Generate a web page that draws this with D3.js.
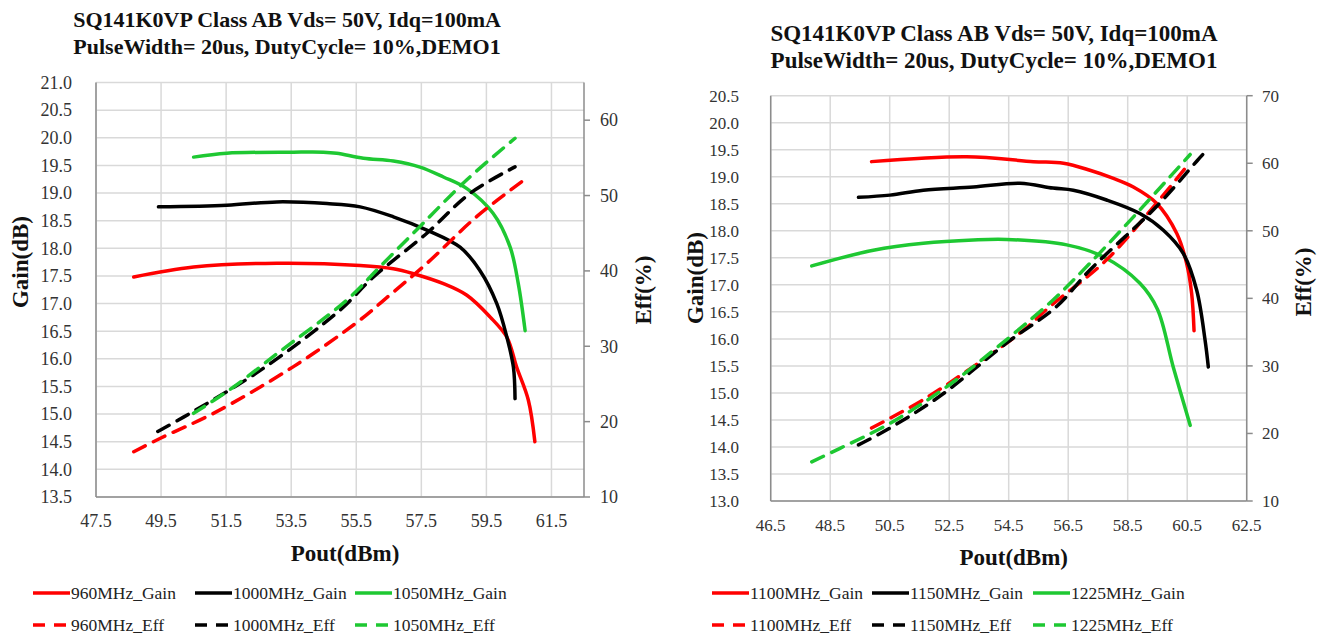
<!DOCTYPE html>
<html>
<head>
<meta charset="utf-8">
<script src="https://cdn.jsdelivr.net/npm/d3@7"></script>
<style>
  body { margin: 0; background: #fff; }
  svg text { font-family: "Liberation Serif", "DejaVu Serif", "Times New Roman", Times, serif; fill: #222; }
  .title { font-weight: bold; fill: #111; }
  .axis-title { font-weight: bold; font-size: 23px; fill: #111; }
  .tick-label { fill: #333; }
  .legend-label { font-size: 17.5px; fill: #222; }
</style>
</head>
<body>
<svg id="chart" width="1324" height="637"></svg>
<script>
// ---- left chart data (960 / 1000 / 1050 MHz) ----
var leftTitle = ["SQ141K0VP Class AB Vds= 50V, Idq=100mA", "PulseWidth= 20us, DutyCycle= 10%,DEMO1"];
var leftNames = ["960MHz", "1000MHz", "1050MHz"];
var leftXTicks = [47.5, 49.5, 51.5, 53.5, 55.5, 57.5, 59.5, 61.5];
var leftGainTicks = [13.5, 14.0, 14.5, 15.0, 15.5, 16.0, 16.5, 17.0, 17.5, 18.0, 18.5, 19.0, 19.5, 20.0, 20.5, 21.0];
var leftEffTicks = [10, 20, 30, 40, 50, 60];

var pout960Gain = [48.66, 50.5, 53.06, 55.62, 56.64, 57.26, 58.18, 58.9, 59.61, 60.13, 60.43, 60.79, 60.99];
var gain960 = [17.48, 17.66, 17.73, 17.69, 17.63, 17.54, 17.36, 17.15, 16.76, 16.39, 15.85, 15.25, 14.5];
var pout960Eff = [48.66, 49.48, 51.11, 53.57, 55.62, 56.34, 57.67, 59.2, 60.79];
var eff960 = [16.0, 17.8, 21.1, 27.3, 33.5, 36.1, 41.0, 47.2, 52.5];

var pout1000Gain = [49.42, 51.52, 53.06, 54.6, 55.62, 56.64, 57.67, 58.69, 59.3, 59.82, 60.13, 60.33, 60.38];
var gain1000 = [18.75, 18.78, 18.84, 18.81, 18.75, 18.57, 18.33, 18.02, 17.6, 17.0, 16.39, 15.85, 15.28];
var pout1000Eff = [49.4, 50.19, 52.55, 55.0, 56.03, 57.67, 59.0, 60.38];
var eff1000 = [18.7, 20.6, 26.8, 34.8, 39.2, 45.0, 50.3, 53.8];

var pout1050Gain = [50.5, 51.52, 53.57, 54.49, 54.9, 55.72, 56.64, 57.46, 58.18, 58.9, 59.71, 60.23, 60.48, 60.69];
var gain1050 = [19.65, 19.72, 19.74, 19.74, 19.72, 19.63, 19.58, 19.47, 19.29, 19.08, 18.63, 18.02, 17.36, 16.51];
var pout1050Eff = [50.5, 51.73, 53.06, 55.2, 56.24, 57.46, 58.9, 60.38];
var eff1050 = [21.1, 24.6, 29.0, 36.1, 40.6, 45.9, 52.1, 57.6];

// ---- right chart data (1100 / 1150 / 1225 MHz) ----
var rightTitle = ["SQ141K0VP Class AB Vds= 50V, Idq=100mA", "PulseWidth= 20us, DutyCycle= 10%,DEMO1"];
var rightNames = ["1100MHz", "1150MHz", "1225MHz"];
var rightXTicks = [46.5, 48.5, 50.5, 52.5, 54.5, 56.5, 58.5, 60.5, 62.5];
var rightGainTicks = [13.0, 13.5, 14.0, 14.5, 15.0, 15.5, 16.0, 16.5, 17.0, 17.5, 18.0, 18.5, 19.0, 19.5, 20.0, 20.5];
var rightEffTicks = [10, 20, 30, 40, 50, 60, 70];

var pout1100Gain = [49.89, 53.09, 55.33, 56.34, 57.23, 58.02, 58.69, 59.47, 60.15, 60.48, 60.65, 60.73];
var gain1100 = [19.28, 19.37, 19.28, 19.25, 19.12, 18.97, 18.81, 18.51, 17.95, 17.4, 16.84, 16.15];
var pout1100Eff = [49.89, 51.63, 53.31, 55.0, 55.89, 57.79, 59.47, 60.48];
var eff1100 = [20.8, 25.0, 29.9, 35.3, 38.8, 45.7, 54.1, 59.5];

var pout1150Gain = [49.45, 50.51, 51.63, 53.31, 54.88, 55.99, 56.67, 57.79, 58.91, 59.7, 60.37, 60.82, 61.1, 61.21];
var gain1150 = [18.62, 18.66, 18.75, 18.81, 18.88, 18.79, 18.75, 18.57, 18.32, 18.01, 17.58, 16.9, 15.98, 15.48];
var pout1150Eff = [49.45, 50.39, 52.18, 54.43, 56.11, 57.23, 59.47, 60.82, 61.21];
var eff1150 = [18.3, 20.5, 25.5, 33.4, 38.8, 44.2, 53.6, 60.3, 62.2];

var pout1225Gain = [47.88, 49.95, 51.63, 53.31, 54.43, 56.45, 57.68, 58.91, 59.5, 60.03, 60.6];
var gain1225 = [17.35, 17.64, 17.77, 17.83, 17.84, 17.74, 17.52, 17.03, 16.55, 15.48, 14.4];
var pout1225Eff = [47.88, 48.83, 50.51, 52.41, 54.43, 56.0, 57.23, 58.91, 60.6];
var eff1225 = [15.8, 17.8, 21.5, 26.9, 33.9, 39.8, 45.2, 53.1, 61.3];

var COLORS = ["#ff0000", "#000000", "#1ec832"];
var FONT = "Liberation Serif, DejaVu Serif, serif";

function zip(xs, ys) {
    return xs.map(function (x, i) { return [x, ys[i]]; });
}

var svg = d3.select("#chart");
svg.append("rect").attr("width", 1324).attr("height", 637).attr("fill", "#fff");

function drawChart(cfg) {
    var g = svg.append("g").attr("font-family", FONT);
    var x = d3.scaleLinear().domain(cfg.xDomain).range([cfg.left, cfg.right]);
    var yGain = d3.scaleLinear().domain(cfg.gainDomain).range([cfg.bottom, cfg.top]);
    var yEff = d3.scaleLinear().domain(cfg.effDomain).range([cfg.bottom, cfg.top]);

    // grid
    g.selectAll(".hgrid")
        .data(cfg.gainTicks)
        .enter().append("line")
        .attr("x1", cfg.left).attr("x2", cfg.right)
        .attr("y1", function (d) { return yGain(d); })
        .attr("y2", function (d) { return yGain(d); })
        .attr("stroke", "#d9d9d9").attr("stroke-width", 1.5);

    g.selectAll(".vgrid")
        .data(cfg.xTicks)
        .enter().append("line")
        .attr("x1", function (d) { return x(d); })
        .attr("x2", function (d) { return x(d); })
        .attr("y1", cfg.top).attr("y2", cfg.bottom)
        .attr("stroke", "#d9d9d9").attr("stroke-width", 1.5);

    // axis lines
    g.append("line").attr("x1", cfg.left).attr("x2", cfg.left)
        .attr("y1", cfg.top).attr("y2", cfg.bottom).attr("stroke", "#8c8c8c").attr("stroke-width", 1.5);
    g.append("line").attr("x1", cfg.left).attr("x2", cfg.right)
        .attr("y1", cfg.bottom).attr("y2", cfg.bottom).attr("stroke", "#8c8c8c").attr("stroke-width", 1.5);
    g.append("line").attr("x1", cfg.right).attr("x2", cfg.right)
        .attr("y1", cfg.top).attr("y2", cfg.bottom).attr("stroke", "#8c8c8c").attr("stroke-width", 1.5);

    // right axis ticks
    g.selectAll(".etick")
        .data(cfg.effTicks)
        .enter().append("line")
        .attr("x1", cfg.right).attr("x2", cfg.right + 6)
        .attr("y1", function (d) { return yEff(d); })
        .attr("y2", function (d) { return yEff(d); })
        .attr("stroke", "#8c8c8c").attr("stroke-width", 1.5);

    // tick labels
    g.selectAll(".glabel")
        .data(cfg.gainTicks)
        .enter().append("text")
        .attr("class", "tick-label")
        .style("font-size", cfg.tickSize + "px")
        .attr("x", cfg.gainLabelX)
        .attr("y", function (d) { return yGain(d) + cfg.tickSize * 0.35; })
        .attr("text-anchor", "end")
        .text(function (d) { return d.toFixed(1); });

    g.selectAll(".elabel")
        .data(cfg.effTicks)
        .enter().append("text")
        .attr("class", "tick-label")
        .style("font-size", cfg.tickSize + "px")
        .attr("x", cfg.effLabelX)
        .attr("y", function (d) { return yEff(d) + cfg.tickSize * 0.35; })
        .attr("text-anchor", "start")
        .text(function (d) { return d; });

    g.selectAll(".xlabel")
        .data(cfg.xTicks)
        .enter().append("text")
        .attr("class", "tick-label")
        .style("font-size", cfg.tickSize + "px")
        .attr("x", function (d) { return x(d); })
        .attr("y", cfg.bottom + 30)
        .attr("text-anchor", "middle")
        .text(function (d) { return d.toFixed(1); });

    // titles
    g.selectAll(".title")
        .data(cfg.title)
        .enter().append("text")
        .attr("class", "title")
        .style("font-size", cfg.titleSize + "px")
        .attr("x", cfg.titleX)
        .attr("y", function (d, i) { return cfg.titleY + i * 27; })
        .attr("text-anchor", "middle")
        .text(function (d) { return d; });

    g.append("text").attr("class", "axis-title")
        .attr("x", (cfg.left + cfg.right) / 2 + 5).attr("y", cfg.bottom + 64)
        .attr("text-anchor", "middle").text("Pout(dBm)");

    g.append("text").attr("class", "axis-title")
        .attr("transform", "translate(" + cfg.gainTitleX + "," + cfg.gainTitleY + ") rotate(-90)")
        .attr("text-anchor", "middle").text("Gain(dB)");

    g.append("text").attr("class", "axis-title")
        .attr("transform", "translate(" + cfg.effTitleX + "," + cfg.effTitleY + ") rotate(-90)")
        .attr("text-anchor", "middle").text("Eff(%)");

    // curves
    var gainLine = d3.line()
        .x(function (d) { return x(d[0]); })
        .y(function (d) { return yGain(d[1]); })
        .curve(d3.curveCatmullRom.alpha(0.5));
    var effLine = d3.line()
        .x(function (d) { return x(d[0]); })
        .y(function (d) { return yEff(d[1]); })
        .curve(d3.curveCatmullRom.alpha(0.5));

    cfg.series.forEach(function (s, i) {
        g.append("path")
            .attr("d", gainLine(zip(s.gainX, s.gain)))
            .attr("fill", "none")
            .attr("stroke", COLORS[i])
            .attr("stroke-width", 3.5)
            .attr("stroke-linecap", "round");
    });
    cfg.series.forEach(function (s, i) {
        g.append("path")
            .attr("d", effLine(zip(s.effX, s.eff)))
            .attr("fill", "none")
            .attr("stroke", COLORS[i])
            .attr("stroke-width", 3.5)
            .attr("stroke-dasharray", "13,9")
            .attr("stroke-linecap", "round");
    });

    // legend
    cfg.series.forEach(function (s, i) {
        [["_Gain", null, 0], ["_Eff", "12,9", 1]].forEach(function (row) {
            var lx = cfg.legendX[i];
            var ly = cfg.legendY + row[2] * 32;
            g.append("line")
                .attr("x1", lx).attr("x2", lx + 37)
                .attr("y1", ly).attr("y2", ly)
                .attr("stroke", COLORS[i]).attr("stroke-width", 3.5)
                .attr("stroke-dasharray", row[1]);
            g.append("text")
                .attr("class", "legend-label")
                .attr("x", lx + 38).attr("y", ly + 6)
                .text(s.name + row[0]);
        });
    });
}

drawChart({
    title: leftTitle,
    titleX: 287, titleY: 27, titleSize: 22,
    tickSize: 18,
    left: 96, right: 584, top: 82.5, bottom: 497,
    xDomain: [47.5, 62.5], gainDomain: [13.5, 21.0], effDomain: [10, 65],
    xTicks: leftXTicks, gainTicks: leftGainTicks, effTicks: leftEffTicks,
    gainLabelX: 72, effLabelX: 600,
    gainTitleX: 28, gainTitleY: 262,
    effTitleX: 651, effTitleY: 290,
    legendX: [33, 195, 355], legendY: 593,
    series: [
        { name: leftNames[0], gainX: pout960Gain, gain: gain960, effX: pout960Eff, eff: eff960 },
        { name: leftNames[1], gainX: pout1000Gain, gain: gain1000, effX: pout1000Eff, eff: eff1000 },
        { name: leftNames[2], gainX: pout1050Gain, gain: gain1050, effX: pout1050Eff, eff: eff1050 }
    ]
});

drawChart({
    title: rightTitle,
    titleX: 994, titleY: 41, titleSize: 23,
    tickSize: 17,
    left: 770.7, right: 1246.7, top: 95.7, bottom: 501,
    xDomain: [46.5, 62.5], gainDomain: [13.0, 20.5], effDomain: [10, 70],
    xTicks: rightXTicks, gainTicks: rightGainTicks, effTicks: rightEffTicks,
    gainLabelX: 739, effLabelX: 1262,
    gainTitleX: 703, gainTitleY: 278,
    effTitleX: 1311, effTitleY: 282,
    legendX: [712, 872, 1033], legendY: 593,
    series: [
        { name: rightNames[0], gainX: pout1100Gain, gain: gain1100, effX: pout1100Eff, eff: eff1100 },
        { name: rightNames[1], gainX: pout1150Gain, gain: gain1150, effX: pout1150Eff, eff: eff1150 },
        { name: rightNames[2], gainX: pout1225Gain, gain: gain1225, effX: pout1225Eff, eff: eff1225 }
    ]
});
</script>
</body>
</html>
